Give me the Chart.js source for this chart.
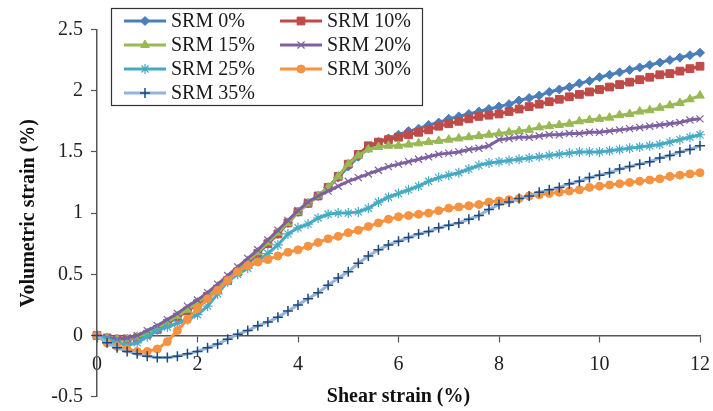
<!DOCTYPE html>
<html>
<head>
<meta charset="utf-8">
<script src="https://cdn.jsdelivr.net/npm/chart.js@4/dist/chart.umd.min.js"></script>
<style>
    body { margin: 0; background: #fff; }
    #wrap { width: 713px; height: 411px; position: relative; }
</style>
</head>
<body>
<div id="wrap"><canvas id="strainChart"></canvas></div>
<script>
// Shear strain (%) sample points
const shearStrain = [0, 0.2, 0.4, 0.6, 0.8, 1, 1.2, 1.4, 1.6, 1.8,
    2, 2.2, 2.4, 2.6, 2.8, 3, 3.2, 3.4, 3.6, 3.8,
    4, 4.2, 4.4, 4.6, 4.8, 5, 5.2, 5.4, 5.6, 5.8,
    6, 6.2, 6.4, 6.6, 6.8, 7, 7.2, 7.4, 7.6, 7.8,
    8, 8.2, 8.4, 8.6, 8.8, 9, 9.2, 9.4, 9.6, 9.8,
    10, 10.2, 10.4, 10.6, 10.8, 11, 11.2, 11.4, 11.6, 11.8, 12];

// Volumetric strain (%) for each SRM content
const srm0 = [0, -0.02, -0.03, -0.03, -0.02, 0.02, 0.06, 0.11, 0.16, 0.21,
    0.26, 0.32, 0.39, 0.46, 0.53, 0.60, 0.67, 0.75, 0.83, 0.92,
    1.01, 1.08, 1.14, 1.21, 1.29, 1.38, 1.46, 1.53, 1.58, 1.61,
    1.64, 1.67, 1.69, 1.72, 1.74, 1.77, 1.79, 1.81, 1.83, 1.85,
    1.87, 1.89, 1.92, 1.94, 1.96, 1.99, 2.01, 2.03, 2.06, 2.08,
    2.11, 2.13, 2.15, 2.17, 2.19, 2.21, 2.23, 2.25, 2.27, 2.29, 2.31];
const srm10 = [0, -0.02, -0.03, -0.03, -0.02, 0.01, 0.05, 0.10, 0.15, 0.20,
    0.26, 0.32, 0.38, 0.45, 0.52, 0.59, 0.67, 0.75, 0.83, 0.92,
    1.01, 1.08, 1.14, 1.21, 1.30, 1.40, 1.48, 1.55, 1.58, 1.60,
    1.62, 1.64, 1.66, 1.68, 1.71, 1.73, 1.75, 1.77, 1.79, 1.80,
    1.81, 1.83, 1.85, 1.87, 1.89, 1.91, 1.93, 1.95, 1.97, 1.99,
    2.01, 2.03, 2.05, 2.07, 2.09, 2.11, 2.13, 2.14, 2.16, 2.18, 2.20];
const srm15 = [0, -0.02, -0.03, -0.03, -0.01, 0.02, 0.06, 0.11, 0.16, 0.21,
    0.27, 0.33, 0.40, 0.47, 0.54, 0.61, 0.68, 0.76, 0.84, 0.92,
    1.01, 1.08, 1.14, 1.21, 1.30, 1.40, 1.47, 1.52, 1.54, 1.55,
    1.55, 1.56, 1.57, 1.58, 1.59, 1.60, 1.61, 1.62, 1.63, 1.64,
    1.65, 1.66, 1.67, 1.68, 1.70, 1.71, 1.72, 1.73, 1.75, 1.76,
    1.77, 1.78, 1.80, 1.81, 1.83, 1.84, 1.86, 1.88, 1.90, 1.93, 1.96];
const srm20 = [0, -0.02, -0.03, -0.02, 0.00, 0.04, 0.08, 0.13, 0.18, 0.24,
    0.29, 0.35, 0.42, 0.49, 0.56, 0.63, 0.70, 0.78, 0.86, 0.94,
    1.02, 1.09, 1.14, 1.18, 1.22, 1.26, 1.29, 1.32, 1.35, 1.38,
    1.40, 1.42, 1.44, 1.46, 1.48, 1.49, 1.50, 1.52, 1.53, 1.55,
    1.60, 1.61, 1.62, 1.62, 1.63, 1.64, 1.64, 1.65, 1.65, 1.66,
    1.66, 1.67, 1.68, 1.69, 1.70, 1.71, 1.72, 1.73, 1.74, 1.76, 1.77];
const srm25 = [0, -0.03, -0.06, -0.08, -0.06, -0.01, 0.04, 0.07, 0.10, 0.13,
    0.17, 0.24, 0.34, 0.44, 0.50, 0.55, 0.61, 0.67, 0.74, 0.83,
    0.88, 0.91, 0.96, 0.99, 1.00, 1.00, 1.01, 1.04, 1.09, 1.13,
    1.16, 1.19, 1.22, 1.26, 1.29, 1.31, 1.33, 1.36, 1.39, 1.41,
    1.42, 1.43, 1.44, 1.45, 1.46, 1.47, 1.48, 1.49, 1.50, 1.50,
    1.50, 1.51, 1.52, 1.53, 1.54, 1.55, 1.56, 1.58, 1.60, 1.62, 1.64];
const srm30 = [0, -0.06, -0.09, -0.11, -0.13, -0.13, -0.11, -0.05, 0.04, 0.13,
    0.22, 0.30, 0.37, 0.45, 0.52, 0.57, 0.60, 0.62, 0.65, 0.68,
    0.70, 0.73, 0.76, 0.79, 0.81, 0.84, 0.86, 0.89, 0.92, 0.95,
    0.97, 0.98, 0.99, 1.00, 1.02, 1.04, 1.05, 1.06, 1.07, 1.09,
    1.10, 1.11, 1.12, 1.14, 1.15, 1.16, 1.17, 1.18, 1.19, 1.21,
    1.22, 1.23, 1.24, 1.25, 1.26, 1.27, 1.28, 1.30, 1.31, 1.32, 1.33];
const srm35 = [0, -0.06, -0.10, -0.13, -0.15, -0.17, -0.18, -0.18, -0.17, -0.15,
    -0.13, -0.10, -0.07, -0.03, 0.01, 0.04, 0.08, 0.11, 0.15, 0.20,
    0.25, 0.30, 0.35, 0.41, 0.47, 0.52, 0.59, 0.65, 0.70, 0.74,
    0.77, 0.80, 0.83, 0.85, 0.88, 0.90, 0.92, 0.95, 0.98, 1.03,
    1.07, 1.09, 1.12, 1.14, 1.17, 1.19, 1.21, 1.24, 1.26, 1.29,
    1.31, 1.33, 1.36, 1.38, 1.40, 1.42, 1.45, 1.47, 1.50, 1.52, 1.55];

const seriesLabels = ['SRM 0%', 'SRM 10%', 'SRM 15%', 'SRM 20%', 'SRM 25%', 'SRM 30%', 'SRM 35%'];
const seriesValues = [srm0, srm10, srm15, srm20, srm25, srm30, srm35];

// Axis ticks
const xTicks = [0, 2, 4, 6, 8, 10, 12];
const yTicks = [-0.5, 0, 0.5, 1, 1.5, 2, 2.5];

const serif = '"Liberation Serif", "Times New Roman", serif';

// Excel-like look for each series: line colour, marker colour, marker shape
const seriesStyles = [
    { line: '#4A7EBB', marker: '#4A7EBB', shape: 'rectRot', radius: 4.5, bw: 1 },
    { line: '#BE4B48', marker: '#BE4B48', shape: 'rect', radius: 5.5, bw: 1 },
    { line: '#98B954', marker: '#98B954', shape: 'triangle', radius: 5, bw: 1 },
    { line: '#7D60A0', marker: '#7D60A0', shape: 'crossRot', radius: 5, bw: 1.2 },
    { line: '#46AAC5', marker: '#46AAC5', shape: 'star', radius: 5, bw: 1.2 },
    { line: '#F69240', marker: '#F69240', shape: 'circle', radius: 4, bw: 1 },
    { line: '#95B3D7', marker: '#1F497D', shape: 'cross', radius: 5, bw: 1.5 }
];

function buildDatasets() {
    return seriesLabels.map((label, i) => {
        const st = seriesStyles[i];
        return {
            label: label,
            data: shearStrain.map((x, k) => ({ x: x, y: seriesValues[i][k] })),
            borderColor: st.line,
            borderWidth: 3,
            pointStyle: st.shape,
            pointRadius: st.radius,
            pointBackgroundColor: st.marker,
            pointBorderColor: st.marker,
            pointBorderWidth: st.bw,
            tension: 0,
            clip: false,
            order: seriesLabels.length - i
        };
    });
}

// Legend drawn inside the plot, two columns, boxed
const boxedLegend = {
    id: 'boxedLegend',
    afterDraw(chart) {
        const ctx = chart.ctx;
        ctx.save();
        ctx.strokeStyle = '#333';
        ctx.lineWidth = 1.2;
        ctx.strokeRect(111.5, 8.5, 311, 97);
        ctx.font = '20px ' + serif;
        ctx.textBaseline = 'middle';
        chart.data.datasets.forEach((ds, i) => {
            const col = i % 2;
            const row = Math.floor(i / 2);
            const x0 = col === 0 ? 124 : 280;
            const y = 21 + row * 24;
            ctx.strokeStyle = ds.borderColor;
            ctx.lineWidth = 3;
            ctx.beginPath();
            ctx.moveTo(x0, y);
            ctx.lineTo(x0 + 42, y);
            ctx.stroke();
            ctx.fillStyle = ds.pointBackgroundColor;
            ctx.strokeStyle = ds.pointBorderColor;
            ctx.lineWidth = ds.pointBorderWidth;
            if (Chart.helpers && Chart.helpers.drawPoint) {
                Chart.helpers.drawPoint(ctx, {
                    pointStyle: ds.pointStyle,
                    radius: ds.pointRadius,
                    rotation: 0,
                    borderWidth: ds.pointBorderWidth
                }, x0 + 21, y);
            }
            ctx.fillStyle = '#1a1a1a';
            ctx.fillText(ds.label, x0 + 47, y + 1);
        });
        ctx.restore();
    }
};

function initializeStrainChart() {
    const ctx = document.getElementById('strainChart').getContext('2d');

    new Chart(ctx, {
        type: 'line',
        data: { datasets: buildDatasets() },
        plugins: [boxedLegend],
        options: {
            responsive: true,
            maintainAspectRatio: false,
            animation: false,
            layout: { padding: { left: 0, right: 13, top: 29.5, bottom: 14.3 } },
            plugins: {
                legend: { display: false },
                tooltip: { enabled: false }
            },
            scales: {
                x: {
                    type: 'linear',
                    position: { y: 0 },
                    min: 0,
                    max: 12,
                    afterBuildTicks: scale => { scale.ticks = xTicks.map(v => ({ value: v })); },
                    afterFit: scale => {
                        // axis sits on y = 0, keep the plot edges and title fixed
                        scale.paddingLeft = 0;
                        scale.paddingRight = 10;
                        scale.height = 73;
                    },
                    grid: { drawOnChartArea: false, tickLength: 6, color: '#555', tickWidth: 1.2 },
                    border: { color: '#555', width: 1.5 },
                    ticks: {
                        color: '#222',
                        padding: 11,
                        font: { family: serif, size: 20 },
                        callback: v => String(v)
                    },
                    title: {
                        display: true,
                        text: 'Shear strain (%)',
                        color: '#111',
                        font: { family: serif, size: 20, weight: 'bold' },
                        padding: { top: 4, bottom: 0 }
                    }
                },
                y: {
                    type: 'linear',
                    min: -0.5,
                    max: 2.5,
                    afterBuildTicks: scale => { scale.ticks = yTicks.map(v => ({ value: v })); },
                    afterFit: scale => {
                        scale.width = 97;
                        scale.paddingTop = 0;
                        scale.paddingBottom = 0;
                    },
                    grid: { drawOnChartArea: false, tickLength: 6, color: '#555', tickWidth: 1.2 },
                    border: { color: '#555', width: 1.5 },
                    ticks: {
                        color: '#222',
                        padding: 8,
                        font: { family: serif, size: 20 },
                        callback: v => String(v)
                    },
                    title: {
                        display: true,
                        text: 'Volumetric strain (%)',
                        color: '#111',
                        font: { family: serif, size: 20, weight: 'bold' },
                        padding: { top: 17, bottom: 0 }
                    }
                }
            }
        }
    });
}

document.addEventListener('DOMContentLoaded', initializeStrainChart);
</script>
</body>
</html>
